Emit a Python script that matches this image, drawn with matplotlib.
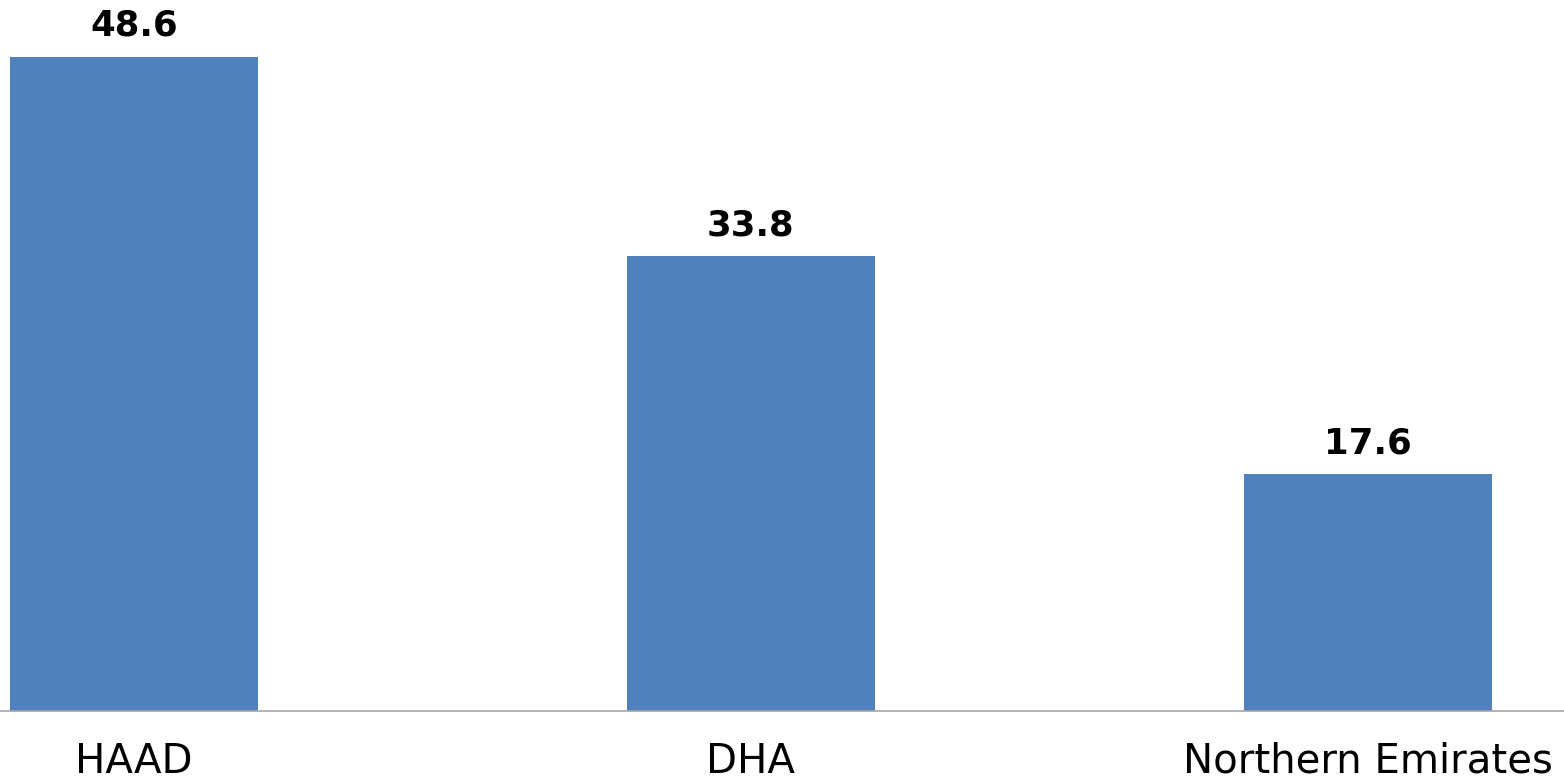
import matplotlib
matplotlib.use("Agg")
import matplotlib.pyplot as plt

categories = ["HAAD", "DHA", "Northern Emirates"]
values = [48.6, 33.8, 17.6]
value_labels = ["48.6", "33.8", "17.6"]

fig = plt.figure(figsize=(15.64, 7.82), dpi=100)
ax = fig.add_axes([0, 0.0908, 1, 0.9092])

x = list(range(len(categories)))
bars = ax.bar(x, values, width=0.402, color="#4F81BD")

for b, lab in zip(bars, value_labels):
    ax.annotate(lab, (b.get_x() + b.get_width() / 2, b.get_height()),
                xytext=(0, 15), textcoords="offset points",
                ha="center", va="baseline", fontsize=25.6,
                fontweight="bold", color="black")

ax.set_xlim(-0.217, 2.318)
ax.set_ylim(0, 52.8)
ax.set_xticks(x)
ax.set_xticklabels(categories, fontsize=29)
ax.tick_params(axis="x", length=0, pad=22)
ax.set_yticks([])
for s in ["top", "left", "right"]:
    ax.spines[s].set_visible(False)
ax.spines["bottom"].set_color("#A6A6A6")
ax.spines["bottom"].set_linewidth(1.2)

fig.savefig("out.png", dpi=100)
